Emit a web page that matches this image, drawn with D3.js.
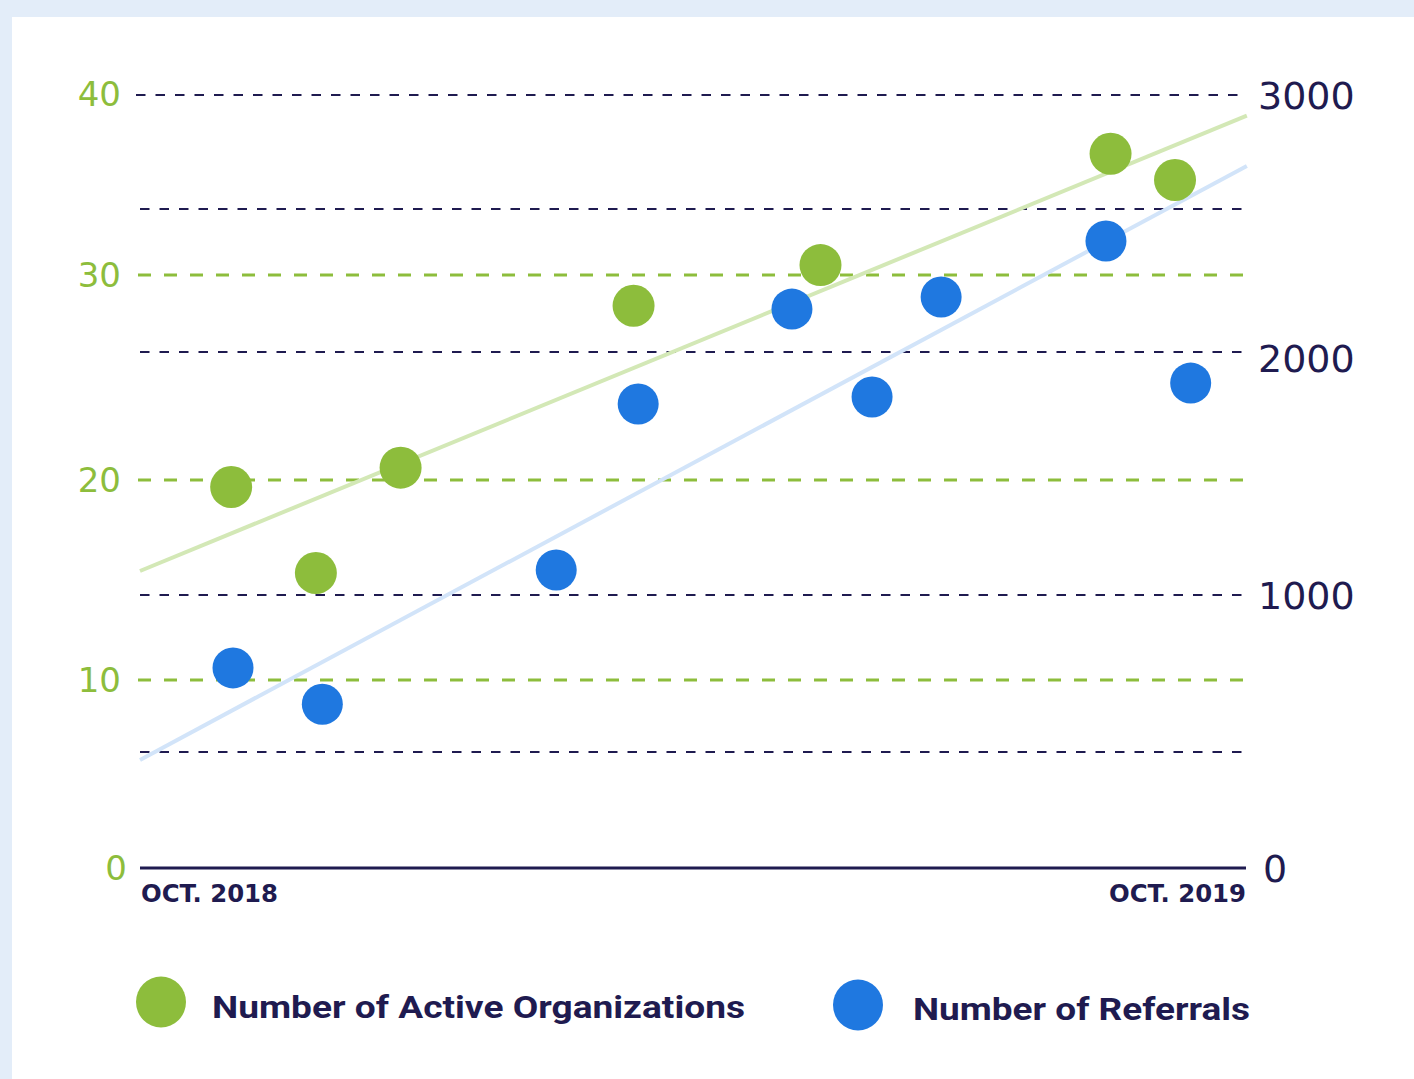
<!DOCTYPE html>
<html><head><meta charset="utf-8">
<script src="https://cdn.jsdelivr.net/npm/d3@7/dist/d3.min.js"></script>
<style>html,body{margin:0;padding:0;background:#e3edf9;}svg{display:block;}</style>
</head><body>
<svg id="c" width="1414" height="1079"></svg>
<script>
// ---- data ----
const orgMonths = [0.99, 1.91, 2.83, 5.36, 7.39, 10.54, 11.24];
const orgValues = [19.65, 15.35, 20.6, 28.5, 30.55, 36.7, 35.25];
const refMonths = [1.01, 1.98, 4.52, 5.41, 7.08, 7.95, 8.7, 10.49, 11.41];
const refValues = [733, 600, 1103, 1786, 2167, 1815, 2214, 2432, 1872];
const orgTrend = [[0, 15.45], [12.02, 38.8]];
const refTrend = [[0, 396], [12.02, 2724]];
const leftTicks = [0, 10, 20, 30, 40];
const rightTicks = [0, 1000, 2000, 3000];
const greenGrid = [10, 20, 30];
const navyGrid = [425, 1000, 2000, 2556, 3000];
const xLabels = ["OCT. 2018", "OCT. 2019"];
const legendLabels = ["Number of Active Organizations", "Number of Referrals"];

const GREEN = "#8dbd3c", BLUE = "#1f78e0", NAVY = "#1f1b50";
const svg = d3.select("#c");
svg.append("rect").attr("x", 12).attr("y", 17).attr("width", 1402).attr("height", 1062).attr("fill", "#fff");

const x = d3.scaleLinear().domain([0, 12]).range([140, 1245]);
const yL = d3.scaleLinear().domain([0, 10, 20, 30, 40]).range([868, 680, 480, 275, 94]);
const yR = d3.scaleLinear().domain([0, 1000, 2000, 3000]).range([868, 595, 352, 95]);

// grid lines
svg.append("g").selectAll("line").data(navyGrid).join("line")
  .attr("x1", d => d === 3000 ? 136 : 140).attr("x2", 1247)
  .attr("y1", d => yR(d)).attr("y2", d => yR(d))
  .attr("stroke", NAVY).attr("stroke-width", 2).attr("stroke-dasharray", "9.5,10");
svg.append("g").selectAll("line").data(greenGrid).join("line")
  .attr("x1", 138).attr("x2", 1247)
  .attr("y1", d => yL(d)).attr("y2", d => yL(d))
  .attr("stroke", GREEN).attr("stroke-width", 3).attr("stroke-dasharray", "13,13");

// baseline
svg.append("line").attr("x1", 140).attr("x2", 1246).attr("y1", yL(0)).attr("y2", yL(0))
  .attr("stroke", NAVY).attr("stroke-width", 3);

// axis labels
svg.append("g").selectAll("text").data(leftTicks).join("text")
  .attr("x", d => d === 0 ? 127 : 121).attr("y", d => yL(d)).attr("dy", "0.36em")
  .attr("text-anchor", "end").attr("fill", GREEN)
  .attr("font-family", "'DejaVu Sans', sans-serif").attr("font-size", 34)
  .text(d => d);
svg.append("g").selectAll("text").data(rightTicks).join("text")
  .attr("x", d => d === 0 ? 1263 : 1258).attr("y", d => d === 2000 ? yR(d) + 6 : yR(d)).attr("dy", "0.36em")
  .attr("text-anchor", "start").attr("fill", NAVY)
  .attr("font-family", "'DejaVu Sans', sans-serif").attr("font-size", 38)
  .text(d => d);

svg.append("g").selectAll("text").data(xLabels).join("text")
  .attr("x", (d, i) => i === 0 ? 141 : 1246).attr("y", 902)
  .attr("text-anchor", (d, i) => i === 0 ? "start" : "end")
  .attr("fill", NAVY).attr("font-family", "'DejaVu Sans', sans-serif").attr("font-weight", 700)
  .attr("font-size", 24).attr("textLength", 137).attr("lengthAdjust", "spacingAndGlyphs")
  .text(d => d);

// trend lines
svg.append("line")
  .attr("x1", x(orgTrend[0][0])).attr("y1", yL(orgTrend[0][1]))
  .attr("x2", x(orgTrend[1][0])).attr("y2", yL(orgTrend[1][1]))
  .attr("stroke", "#d3e8b6").attr("stroke-width", 4);
svg.append("line")
  .attr("x1", x(refTrend[0][0])).attr("y1", yR(refTrend[0][1]))
  .attr("x2", x(refTrend[1][0])).attr("y2", yR(refTrend[1][1]))
  .attr("stroke", "#d2e4f9").attr("stroke-width", 4);

// points
svg.append("g").selectAll("circle").data(orgMonths).join("circle")
  .attr("cx", d => x(d)).attr("cy", (d, i) => yL(orgValues[i])).attr("r", 21).attr("fill", GREEN);
svg.append("g").selectAll("circle").data(refMonths).join("circle")
  .attr("cx", d => x(d)).attr("cy", (d, i) => yR(refValues[i])).attr("r", 20.5).attr("fill", BLUE);

// legend
const leg = [
  {cx: 161, cy: 1002, color: GREEN, tx: 212, ty: 1006, w: 533, label: legendLabels[0]},
  {cx: 858, cy: 1005, color: BLUE, tx: 913, ty: 1008, w: 337, label: legendLabels[1]}
];
svg.append("g").selectAll("ellipse").data(leg).join("ellipse")
  .attr("cx", d => d.cx).attr("cy", d => d.cy).attr("rx", 25).attr("ry", 25.5).attr("fill", d => d.color);
svg.append("g").selectAll("text").data(leg).join("text")
  .attr("x", d => d.tx).attr("y", d => d.ty).attr("dy", "0.36em")
  .attr("fill", NAVY).attr("font-family", "Roboto, sans-serif").attr("font-weight", 700)
  .attr("font-size", 32).attr("textLength", d => d.w).attr("lengthAdjust", "spacingAndGlyphs")
  .text(d => d.label);
</script>
</body></html>
